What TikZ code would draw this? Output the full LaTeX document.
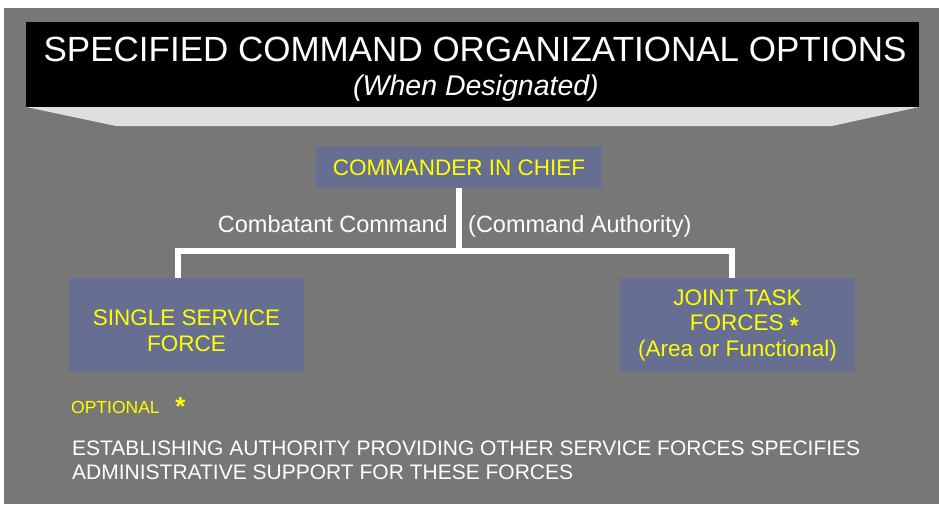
\documentclass[tikz,border=0pt]{standalone}
\usepackage{fontspec}
\setmainfont{Liberation Sans}
\definecolor{slidegray}{HTML}{777777}
\definecolor{boxblue}{HTML}{666E92}
\definecolor{shelf}{HTML}{DFDFDF}
\definecolor{txtyellow}{HTML}{FFFF00}
\tikzset{
  orgbox/.style={fill=boxblue, text=txtyellow, align=center, inner sep=0pt,
    font=\fontsize{22.5}{25.5}\selectfont},
  wlabel/.style={text=white, inner sep=0pt, font=\fontsize{23.5}{27}\selectfont},
  conn/.style={draw=white, line width=5.5pt, line join=miter}
}
\begin{document}
\begin{tikzpicture}[x=1pt,y=-1pt]
\useasboundingbox (0,0) rectangle (939,504);
\fill[slidegray] (4,8) rectangle (939,504);
% title banner
\fill[shelf] (26,107) -- (919,107) -- (832,126) -- (116,126) -- cycle;
\fill[black] (26,22) rectangle (919,107);
\node[anchor=base, text=white, inner sep=0pt, font=\fontsize{35}{40}\selectfont] (title) at (475,61)
  {SPECIFIED COMMAND ORGANIZATIONAL OPTIONS};
\node[anchor=base, text=white, inner sep=0pt, font=\fontsize{28.5}{32}\selectfont\itshape] (subtitle) at (476,95)
  {(When Designated)};
% boxes
\node[orgbox, minimum width=286pt, minimum height=41pt] (cinc) at (459,167.5) {COMMANDER IN CHIEF};
\node[orgbox, minimum width=235pt, minimum height=94pt] (ssf) at (186.5,325)
  {\rule{0pt}{27pt}SINGLE SERVICE\\FORCE};
\node[orgbox, minimum width=235pt, minimum height=94pt] (jtf) at (737.5,325)
  {JOINT TASK\\\hspace*{0.6em}FORCES \raisebox{-0.25ex}{\textbf{*}}\\(Area or Functional)};
% connectors
\coordinate (lsplit) at (178,251);
\coordinate (rsplit) at (732,251);
\draw[conn] (cinc.south) -- (cinc.south |- lsplit);
\draw[conn] (lsplit |- ssf.north) -- (lsplit) -- (rsplit) -- (rsplit |- jtf.north);
\node[wlabel, anchor=base east] (cc) at (448,232) {Combatant Command};
\node[wlabel, anchor=base west] (ca) at (468,232) {(Command Authority)};
% notes
\node[anchor=base west, text=txtyellow, inner sep=0pt, font=\fontsize{17.5}{20}\selectfont] (opt) at (71,413)
  {OPTIONAL\hspace{0.9em}\raisebox{-0.3ex}{\fontsize{26}{26}\selectfont\textbf{*}}};
\node[anchor=base west, text=white, inner sep=0pt, align=left, font=\fontsize{21}{24}\selectfont] (estab) at (72,479)
  {ESTABLISHING AUTHORITY PROVIDING OTHER SERVICE FORCES SPECIFIES\\ADMINISTRATIVE SUPPORT FOR THESE FORCES};
\end{tikzpicture}
\end{document}
